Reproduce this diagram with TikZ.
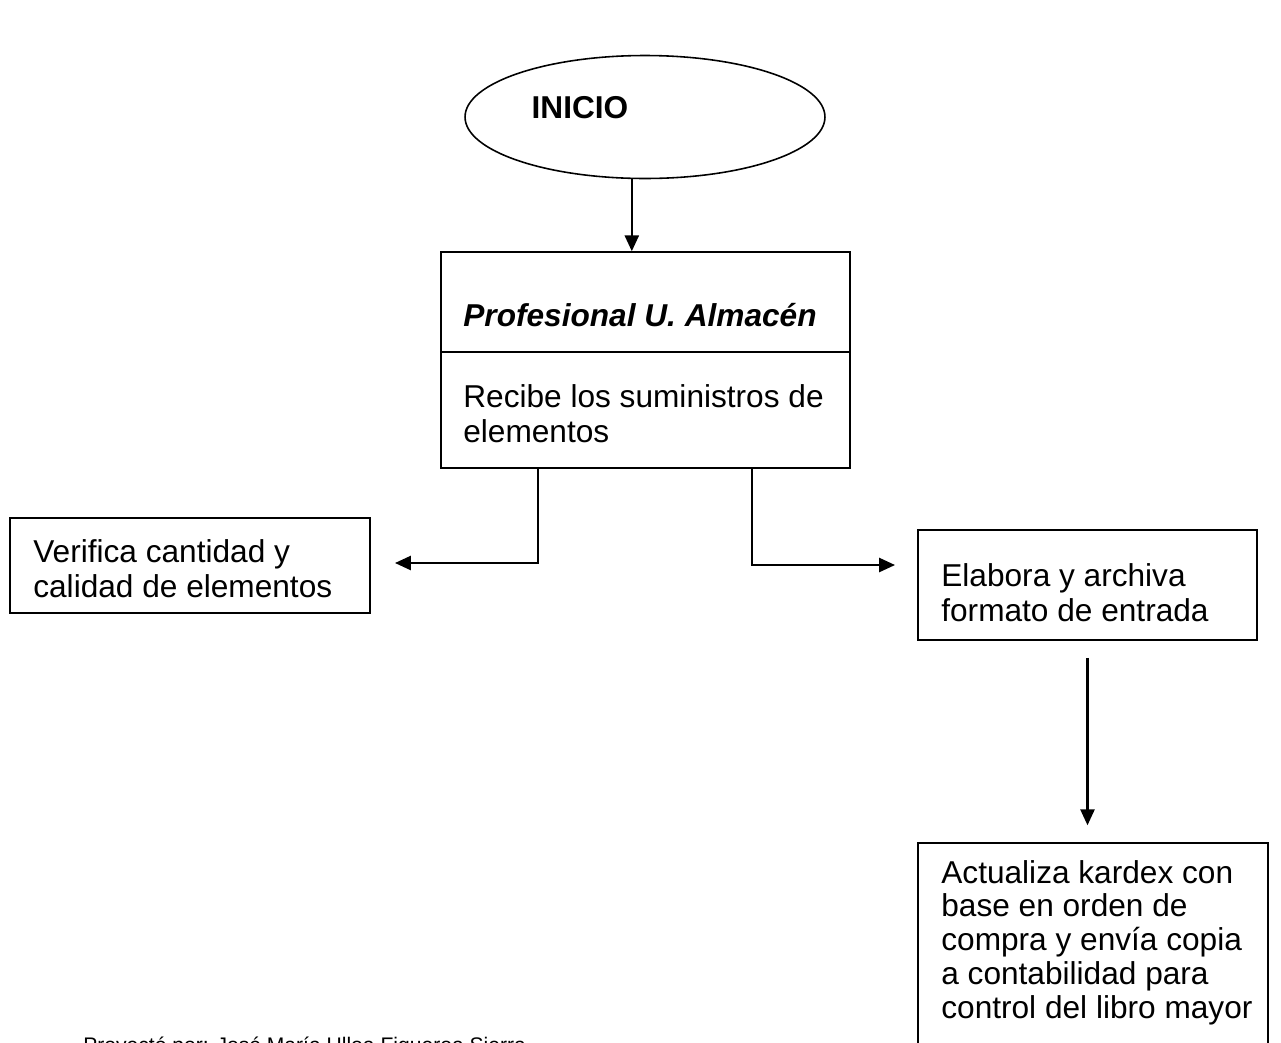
\documentclass[tikz,border=0pt]{standalone}
\usepackage{fontspec}
\setmainfont{Liberation Sans}
\usetikzlibrary{shapes.geometric,arrows.meta}

\begin{document}
\begin{tikzpicture}[x=0.02cm,y=-0.02cm,
    caja/.style={draw,line width=0.9pt,inner sep=0pt},
    texto/.style={anchor=base west,align=left,inner sep=0pt,
      font=\fontsize{18}{19.5}\selectfont},
    flecha/.style={line width=1.2pt,-{Triangle[length=9pt,width=8pt]}}]
  \useasboundingbox (0,0) rectangle (1281,1042);
  \clip (0,0) rectangle (1281,1042);

  % inicio
  \node[caja,ellipse,minimum width=7.2cm,minimum height=2.46cm] (inicio) at (645,117) {};
  \node[font=\fontsize{18}{20}\selectfont\bfseries,inner sep=0pt,anchor=base] (inicioTxt) at (580,118) {INICIO};

  % cajas
  \node[caja,minimum width=8.18cm,minimum height=4.32cm] (almacen) at (645.5,360) {};
  \node[caja,minimum width=7.2cm,minimum height=1.9cm] (verifica) at (190,565.5) {};
  \node[caja,minimum width=6.78cm,minimum height=2.2cm] (elabora) at (1087.5,585) {};
  \node[caja,minimum width=7cm,minimum height=4.68cm] (kardex) at (1093,960) {};

  % linea que parte la caja del almacen
  \coordinate (div) at (0,352);
  \draw[line width=0.9pt] (almacen.west |- div) -- (almacen.east |- div);

  % textos (el ancla base queda en la ultima linea)
  \node[texto,font=\fontsize{18}{20}\selectfont\bfseries\itshape] (cargo) at (463,326) {Profesional U. Almacén};
  \node[texto] (recibe) at (463,442) {Recibe los suministros de\\elementos};
  \node[texto] (verificaTxt) at (33,597) {Verifica cantidad y\\calidad de elementos};
  \node[texto] (elaboraTxt) at (941,621) {Elabora y archiva\\formato de entrada};
  \node[texto,font=\fontsize{18}{19.2}\selectfont] (kardexTxt) at (941,1018) {Actualiza kardex con\\base en orden de\\compra y envía copia\\a contabilidad para\\control del libro mayor};
  \node[anchor=base west,inner sep=0pt,font=\fontsize{12}{14}\selectfont] (pie) at (83,1052) {Proyectó por: José María Ulloa Figueroa Sierra};

  % conectores
  \coordinate (salIzq) at (538,468);
  \coordinate (puntaIzq) at (395,563);
  \coordinate (salDer) at (752,468);
  \coordinate (puntaDer) at (895,565);
  \draw[flecha] (inicio.258) -- (inicio.258 |- almacen.north);
  \draw[flecha] (salIzq) |- (puntaIzq);
  \draw[flecha] (salDer) |- (puntaDer);
  \draw[flecha,shorten <=0.34cm,shorten >=0.34cm] (elabora.south) -- (elabora.south |- kardex.north);
\end{tikzpicture}
\end{document}
